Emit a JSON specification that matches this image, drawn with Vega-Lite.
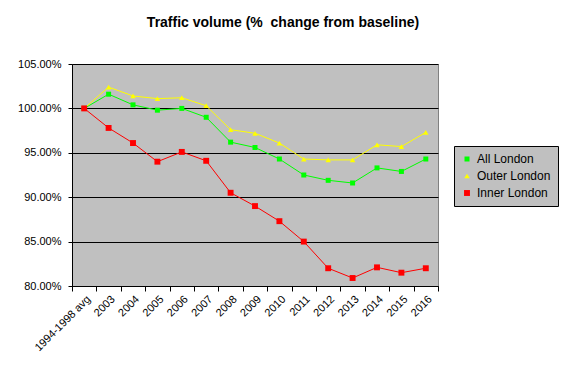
{
  "$schema": "https://vega.github.io/schema/vega-lite/v6.json",
  "autosize": "none",
  "width": 366,
  "height": 222,
  "padding": {"left": 72, "top": 64, "right": 132, "bottom": 89},
  "background": "white",
  "title": {
    "text": "Traffic volume (%\u00a0 change from baseline)",
    "font": "Liberation Sans",
    "fontSize": 14,
    "fontWeight": "bold",
    "color": "black",
    "anchor": "middle",
    "dx": 28,
    "offset": 28
  },
  "config": {
    "view": {"fill": "#c0c0c0", "stroke": "#808080", "strokeWidth": 1},
    "axis": {"labelFont": "Liberation Sans", "labelFontSize": 11, "labelColor": "black", "domainColor": "black", "tickColor": "black", "title": null}
  },
  "data": {
    "values": [
      {"cat": "1994-1998 avg", "series": "All London", "value": 1.000},
      {"cat": "2003", "series": "All London", "value": 1.016},
      {"cat": "2004", "series": "All London", "value": 1.004},
      {"cat": "2005", "series": "All London", "value": 0.998},
      {"cat": "2006", "series": "All London", "value": 1.000},
      {"cat": "2007", "series": "All London", "value": 0.990},
      {"cat": "2008", "series": "All London", "value": 0.962},
      {"cat": "2009", "series": "All London", "value": 0.956},
      {"cat": "2010", "series": "All London", "value": 0.943},
      {"cat": "2011", "series": "All London", "value": 0.925},
      {"cat": "2012", "series": "All London", "value": 0.919},
      {"cat": "2013", "series": "All London", "value": 0.916},
      {"cat": "2014", "series": "All London", "value": 0.933},
      {"cat": "2015", "series": "All London", "value": 0.929},
      {"cat": "2016", "series": "All London", "value": 0.943},
      {"cat": "1994-1998 avg", "series": "Outer London", "value": 1.000},
      {"cat": "2003", "series": "Outer London", "value": 1.024},
      {"cat": "2004", "series": "Outer London", "value": 1.014},
      {"cat": "2005", "series": "Outer London", "value": 1.011},
      {"cat": "2006", "series": "Outer London", "value": 1.012},
      {"cat": "2007", "series": "Outer London", "value": 1.003},
      {"cat": "2008", "series": "Outer London", "value": 0.976},
      {"cat": "2009", "series": "Outer London", "value": 0.972},
      {"cat": "2010", "series": "Outer London", "value": 0.961},
      {"cat": "2011", "series": "Outer London", "value": 0.943},
      {"cat": "2012", "series": "Outer London", "value": 0.942},
      {"cat": "2013", "series": "Outer London", "value": 0.942},
      {"cat": "2014", "series": "Outer London", "value": 0.959},
      {"cat": "2015", "series": "Outer London", "value": 0.957},
      {"cat": "2016", "series": "Outer London", "value": 0.973},
      {"cat": "1994-1998 avg", "series": "Inner London", "value": 1.000},
      {"cat": "2003", "series": "Inner London", "value": 0.978},
      {"cat": "2004", "series": "Inner London", "value": 0.961},
      {"cat": "2005", "series": "Inner London", "value": 0.940},
      {"cat": "2006", "series": "Inner London", "value": 0.951},
      {"cat": "2007", "series": "Inner London", "value": 0.941},
      {"cat": "2008", "series": "Inner London", "value": 0.905},
      {"cat": "2009", "series": "Inner London", "value": 0.890},
      {"cat": "2010", "series": "Inner London", "value": 0.873},
      {"cat": "2011", "series": "Inner London", "value": 0.850},
      {"cat": "2012", "series": "Inner London", "value": 0.820},
      {"cat": "2013", "series": "Inner London", "value": 0.809},
      {"cat": "2014", "series": "Inner London", "value": 0.821},
      {"cat": "2015", "series": "Inner London", "value": 0.815},
      {"cat": "2016", "series": "Inner London", "value": 0.820}
    ]
  },
  "encoding": {
    "x": {
      "field": "cat", "type": "nominal", "sort": null,
      "scale": {"type": "band", "paddingInner": 0, "paddingOuter": 0},
      "axis": {"labelAngle": -45, "tickBand": "extent", "labelPadding": 2, "tickSize": 5}
    },
    "y": {
      "field": "value", "type": "quantitative",
      "scale": {"domain": [0.8, 1.05], "nice": false, "zero": false},
      "axis": {"values": [0.8, 0.85, 0.9, 0.95, 1.0, 1.05], "format": ".2%", "gridColor": "black", "gridOpacity": 1, "gridWidth": 1, "tickSize": 4, "labelPadding": 7}
    },
    "color": {
      "field": "series", "type": "nominal",
      "scale": {"domain": ["All London", "Outer London", "Inner London"], "range": ["#00ff00", "#ffff00", "#ff0000"]},
      "legend": {
        "title": null, "orient": "none", "legendX": 382, "legendY": 82,
        "fillColor": "#c0c0c0", "strokeColor": "black", "padding": 7,
        "labelFont": "Liberation Sans", "labelFontSize": 12, "labelColor": "black",
        "rowPadding": 5, "symbolStrokeWidth": 0, "symbolOpacity": 1
      }
    },
    "shape": {
      "field": "series", "type": "nominal",
      "scale": {"domain": ["All London", "Outer London", "Inner London"], "range": ["square", "triangle-up", "square"]}
    },
    "size": {
      "field": "series", "type": "nominal",
      "scale": {"domain": ["All London", "Outer London", "Inner London"], "range": [25, 35, 70]},
      "legend": null
    }
  },
  "layer": [
    {"mark": {"type": "line", "strokeWidth": 1}, "encoding": {"shape": {"value": "circle"}, "size": {"value": 1}}},
    {"mark": {"type": "point", "filled": true, "opacity": 1}}
  ]
}
